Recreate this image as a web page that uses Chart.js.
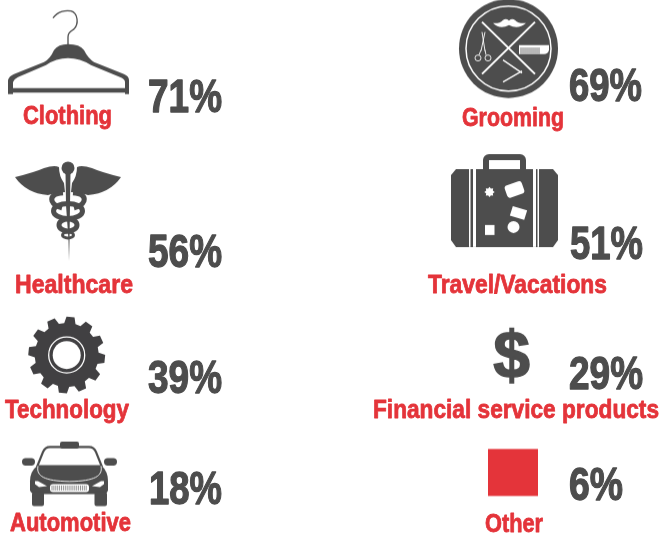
<!DOCTYPE html>
<html>
<head>
<meta charset="utf-8">
<style>
html, body { margin: 0; padding: 0; background: #fff; }
canvas { display: block; }
</style>
<script src="https://cdn.jsdelivr.net/npm/chart.js@4/dist/chart.umd.min.js"></script>
</head>
<body>
<canvas id="chart" width="660" height="539"></canvas>
<script>
// data
var categories = ['Clothing', 'Healthcare', 'Technology', 'Automotive', 'Grooming', 'Travel/Vacations', 'Financial service products', 'Other'];
var values = [71, 56, 39, 18, 69, 51, 29, 6];
var columns = [0, 0, 0, 0, 1, 1, 1, 1];
var rows = [0, 1, 2, 3, 0, 1, 2, 3];

// text boxes, same order as categories: left, baseline, width
var labelBoxes = [[23, 124, 89], [15, 293, 118], [5, 418, 124], [10, 531, 121], [462, 126, 102], [428, 293, 179], [373, 418, 286], [485, 532, 58]];
var valueBoxes = [[148, 112, 74], [148, 267, 74], [148, 393, 74], [149, 504, 73], [569, 101, 73], [570, 259, 73], [569, 389, 74], [569, 500, 54]];

var RED = '#e4343a';
var DARK = '#4d4d4d';
var W = 660, H = 539;
var CELL_W = 330, CELL_H = 140;

function poly(c, pts) {
    pts.forEach(function(p, i) {
        if (i == 0) c.moveTo(p[0], p[1]); else c.lineTo(p[0], p[1]);
    });
    c.closePath();
}

function mirrored(pts, mx) {
    return pts.map(function(p) { return [2 * mx - p[0], p[1]]; });
}

function hanger(c) {
    c.strokeStyle = DARK;
    c.lineWidth = 1.3;
    c.beginPath();
    c.moveTo(53, 18);
    c.bezierCurveTo(58, 11, 66, 10, 71, 11);
    c.bezierCurveTo(78, 13, 79, 24, 74, 29);
    c.bezierCurveTo(70, 32, 68, 33, 68, 37);
    c.lineTo(68, 45);
    c.stroke();
    c.fillStyle = DARK;
    c.beginPath();
    c.moveTo(8, 94);
    c.lineTo(8, 80);
    c.quadraticCurveTo(9, 76, 14, 74);
    c.lineTo(44, 62);
    c.quadraticCurveTo(50, 59, 54, 50);
    c.quadraticCurveTo(58, 44, 68, 44);
    c.quadraticCurveTo(80, 44, 84, 50);
    c.quadraticCurveTo(88, 58, 94, 62);
    c.lineTo(124, 74);
    c.quadraticCurveTo(129, 76, 129, 80);
    c.lineTo(129, 94);
    c.lineTo(125, 94);
    c.lineTo(125, 92.5);
    c.lineTo(13, 92.5);
    c.lineTo(13, 94);
    c.closePath();
    c.moveTo(13, 88);
    c.lineTo(13, 82);
    c.quadraticCurveTo(14, 79, 18, 77);
    c.lineTo(46, 65);
    c.quadraticCurveTo(56, 58, 68, 58);
    c.quadraticCurveTo(80, 58, 91, 65);
    c.lineTo(120, 77);
    c.quadraticCurveTo(125, 79, 125, 82);
    c.lineTo(125, 88);
    c.closePath();
    c.fill('evenodd');
}

function caduceus(c) {
    c.fillStyle = DARK;
    c.strokeStyle = DARK;
    var mx = 68;
    [false, true].forEach(function(flip) {
        c.save();
        if (flip) { c.translate(2 * mx, 0); c.scale(-1, 1); }
        c.beginPath();
        c.moveTo(15, 177);
        c.quadraticCurveTo(35, 172, 44, 168);
        c.quadraticCurveTo(54, 165, 59, 167);
        c.quadraticCurveTo(59, 176, 64, 183);
        c.lineTo(65, 192);
        c.quadraticCurveTo(56, 192, 48, 195);
        c.quadraticCurveTo(26, 193, 15, 177);
        c.closePath();
        c.fill();
        // snake curl at the top
        c.lineWidth = 5;
        c.beginPath();
        c.moveTo(63, 193);
        c.quadraticCurveTo(50, 194, 52, 201);
        c.quadraticCurveTo(54, 206, 62, 208);
        c.stroke();
        c.restore();
    });
    c.beginPath();
    c.arc(mx, 168, 6.5, 0, Math.PI * 2);
    c.fill();
    c.beginPath();
    poly(c, [[65.5, 172], [70.5, 172], [70, 205], [69.5, 240], [69, 261], [68.5, 240], [66, 205]]);
    c.fill();
    c.lineWidth = 5;
    c.beginPath();
    c.ellipse(mx, 211, 14.5, 7.5, 0, 0, Math.PI * 2);
    c.stroke();
    c.beginPath();
    c.ellipse(mx, 225, 9, 6, 0, 0, Math.PI * 2);
    c.stroke();
    c.lineWidth = 3;
    c.beginPath();
    c.ellipse(mx, 235, 5.5, 3, 0, 0, Math.PI * 2);
    c.stroke();
}

function gear(c) {
    var cx = 66.7, cy = 355, teeth = 12;
    var col = '#414042';
    c.fillStyle = col;
    c.beginPath();
    for (var i = 0; i < teeth; i++) {
        var a = i / teeth * Math.PI * 2 + 0.1;
        var s = Math.PI * 2 / teeth;
        var pts = [[32, -0.34], [38.5, -0.2], [38.5, 0.2], [32, 0.34]];
        pts.forEach(function(p, j) {
            var ang = a + p[1] * s;
            var px = cx + p[0] * Math.cos(ang), py = cy + p[0] * Math.sin(ang);
            if (i == 0 && j == 0) c.moveTo(px, py); else c.lineTo(px, py);
        });
    }
    c.closePath();
    c.fill();
    c.strokeStyle = '#fff';
    c.lineWidth = 1.3;
    c.beginPath();
    c.arc(cx, cy, 18, 0, Math.PI * 2);
    c.stroke();
    c.fillStyle = '#fff';
    c.beginPath();
    c.arc(cx, cy, 14, 0, Math.PI * 2);
    c.fill();
}

function car(c) {
    var mx = 69.5;
    c.fillStyle = DARK;
    c.strokeStyle = DARK;
    // roof sign
    c.beginPath();
    c.roundRect(60, 441.5, 19, 7, 2);
    c.fill();
    // cabin outline
    c.lineWidth = 2.2;
    c.beginPath();
    c.moveTo(37, 467);
    c.lineTo(43, 452);
    c.quadraticCurveTo(45, 447, 50, 447);
    c.lineTo(89, 447);
    c.quadraticCurveTo(94, 447, 96, 452);
    c.lineTo(102, 467);
    c.stroke();
    // mirrors
    c.beginPath();
    c.roundRect(22, 458, 13, 7.5, 3.7);
    c.roundRect(104, 458, 13, 7.5, 3.7);
    c.fill();
    // body
    c.beginPath();
    c.moveTo(38, 465);
    c.lineTo(101, 465);
    c.quadraticCurveTo(108, 471, 108, 481);
    c.lineTo(108, 490);
    c.quadraticCurveTo(107, 494, 103, 494);
    c.lineTo(36, 494);
    c.quadraticCurveTo(31, 494, 30, 490);
    c.lineTo(30, 481);
    c.quadraticCurveTo(30, 471, 38, 465);
    c.closePath();
    c.fill();
    // wheels
    c.beginPath();
    c.roundRect(32, 492, 12, 14, 2);
    c.roundRect(94.5, 492, 12.5, 14, 2);
    c.fill();
    // hood line
    c.strokeStyle = '#fff';
    c.lineWidth = 0.9;
    c.beginPath();
    c.moveTo(38, 466);
    c.bezierCurveTo(36, 476, 44, 481, mx, 481.5);
    c.bezierCurveTo(95, 481, 103, 476, 101, 466);
    c.stroke();
    // headlights
    c.fillStyle = '#fff';
    [0, 1].forEach(function(k) {
        var pts = [[35, 481], [38, 481], [47, 486], [39, 487], [35, 484]];
        if (k) pts = mirrored(pts, mx);
        c.beginPath();
        poly(c, pts);
        c.fill();
    });
    // grille
    c.beginPath();
    c.roundRect(50, 484, 39, 8, 3);
    c.fill();
    c.strokeStyle = '#777';
    c.lineWidth = 0.8;
    c.beginPath();
    for (var x = 52; x < 88; x += 1.9) {
        c.moveTo(x, 485.5);
        c.lineTo(x, 490.5);
    }
    c.stroke();
}

function grooming(c) {
    var cx = 508.5, cy = 48.5;
    c.fillStyle = DARK;
    c.beginPath();
    c.arc(cx, cy, 49.5, 0, Math.PI * 2);
    c.fill();
    c.strokeStyle = '#fff';
    c.lineWidth = 1.5;
    c.beginPath();
    c.arc(cx, cy, 42.5, 0, Math.PI * 2);
    c.stroke();
    c.lineWidth = 2;
    c.beginPath();
    c.moveTo(482, 22); c.lineTo(535, 74);
    c.moveTo(535, 22); c.lineTo(482, 74);
    c.stroke();
    // moustache
    c.fillStyle = '#fff';
    c.beginPath();
    c.moveTo(493, 23);
    c.quadraticCurveTo(499, 24, 503, 20);
    c.quadraticCurveTo(506, 18, 509, 20.5);
    c.quadraticCurveTo(512, 18, 515, 20);
    c.quadraticCurveTo(519, 24, 526, 23);
    c.quadraticCurveTo(518, 30, 509, 25);
    c.quadraticCurveTo(500, 30, 493, 23);
    c.fill();
    // scissors
    c.lineWidth = 0.9;
    c.beginPath();
    c.moveTo(482, 32); c.lineTo(485, 51);
    c.moveTo(485, 32); c.lineTo(481, 51);
    c.moveTo(485, 50); c.lineTo(486, 55);
    c.moveTo(481, 50); c.lineTo(479, 55);
    c.moveTo(481, 58); c.arc(478, 58, 3, 0, Math.PI * 2);
    c.moveTo(491, 58); c.arc(488, 58, 3, 0, Math.PI * 2);
    c.stroke();
    // comb
    c.fillStyle = '#fff';
    c.beginPath();
    c.moveTo(519, 45);
    c.lineTo(549, 45);
    c.lineTo(549, 50);
    c.quadraticCurveTo(548, 54, 544, 54);
    c.lineTo(519, 54);
    c.closePath();
    c.fill();
    c.strokeStyle = DARK;
    c.lineWidth = 0.8;
    c.beginPath();
    for (var x = 521; x < 541; x += 2) {
        c.moveTo(x, 47.5);
        c.lineTo(x, 54);
    }
    c.stroke();
    // razor
    c.strokeStyle = '#fff';
    c.lineWidth = 1.3;
    c.beginPath();
    c.moveTo(503, 60); c.lineTo(522, 73);
    c.moveTo(503, 82); c.lineTo(522, 71);
    c.stroke();
}

function suitcase(c) {
    c.fillStyle = DARK;
    c.strokeStyle = DARK;
    c.lineWidth = 6;
    c.beginPath();
    c.roundRect(486, 157, 37, 20, 3);
    c.stroke();
    c.beginPath();
    poly(c, [[456, 169], [553, 169], [558, 175], [558, 240], [553, 247], [456, 247], [451, 240], [451, 175]]);
    c.fill();
    c.fillStyle = '#fff';
    [[469, 1.5], [473, 3], [533, 3], [537.5, 1.5]].forEach(function(s) {
        c.fillRect(s[0], 169, s[1], 78);
    });
    // stickers
    c.beginPath();
    for (var i = 0; i < 16; i++) {
        var a = i / 16 * Math.PI * 2;
        var r = i % 2 ? 3.6 : 5.2;
        var px = 489.5 + r * Math.cos(a), py = 192 + r * Math.sin(a);
        if (i == 0) c.moveTo(px, py); else c.lineTo(px, py);
    }
    c.closePath();
    c.fill();
    c.save();
    c.translate(514.5, 189.5);
    c.rotate(-0.33);
    c.beginPath();
    c.roundRect(-9, -6.5, 18, 13, 3);
    c.fill();
    c.restore();
    c.save();
    c.translate(518.5, 213);
    c.rotate(0.3);
    c.fillRect(-7.5, -5, 15, 10);
    c.restore();
    c.fillRect(485, 225, 9.5, 10);
    c.beginPath();
    c.arc(513.5, 227, 6, 0, Math.PI * 2);
    c.fill();
}

function dollar(c) {
    c.fillStyle = DARK;
    c.strokeStyle = DARK;
    c.lineWidth = 1.5;
    c.font = 'bold 66px "Liberation Sans"';
    c.textAlign = 'center';
    c.textBaseline = 'alphabetic';
    c.fillText('$', 511.5, 378);
    c.strokeText('$', 511.5, 378);
}

function redBlock(c) {
    c.fillStyle = RED;
    c.fillRect(488, 449, 50, 47);
}

var painters = [hanger, caduceus, gear, car, grooming, suitcase, dollar, redBlock];

// each icon is painted on a cell sized canvas which Chart.js centres on the point
function iconFor(i) {
    var cv = document.createElement('canvas');
    cv.width = CELL_W;
    cv.height = CELL_H;
    var c = cv.getContext('2d');
    var cx = (columns[i] + 0.5) / 2 * W;
    var cy = (rows[i] + 0.5) / 4 * H;
    c.translate(CELL_W / 2 - cx, CELL_H / 2 - cy);
    painters[i](c);
    return cv;
}

function fitText(ctx, text, box, font, color, weight) {
    ctx.save();
    ctx.font = font;
    ctx.fillStyle = color;
    ctx.strokeStyle = color;
    ctx.lineWidth = weight;
    ctx.lineJoin = 'round';
    ctx.textAlign = 'left';
    ctx.textBaseline = 'alphabetic';
    var w = ctx.measureText(text).width;
    ctx.translate(box[0], box[1]);
    ctx.scale(box[2] / w, 1);
    ctx.fillText(text, 0, 0);
    ctx.strokeText(text, 0, 0);
    ctx.restore();
}

var textPlugin = {
    id: 'iconText',
    afterDatasetsDraw: function(chart) {
        var ctx = chart.ctx;
        categories.forEach(function(name, i) {
            fitText(ctx, name, labelBoxes[i], 'bold 26px "Liberation Sans Narrow", "Liberation Sans"', RED, 0.8);
            fitText(ctx, values[i] + '%', valueBoxes[i], 'bold 46px "Liberation Sans Narrow", "Liberation Sans"', DARK, 1.3);
        });
    }
};

var ctx = document.getElementById('chart');
var chart = new Chart(ctx, {
    type: 'scatter',
    data: {
        labels: categories,
        datasets: [{
            label: 'Share',
            data: categories.map(function(name, i) {
                return { x: columns[i], y: rows[i] };
            }),
            pointStyle: categories.map(function(name, i) { return iconFor(i); }),
            clip: false
        }]
    },
    options: {
        responsive: false,
        animation: false,
        events: [],
        layout: { autoPadding: false, padding: 0 },
        plugins: {
            legend: { display: false },
            tooltip: { enabled: false }
        },
        scales: {
            x: { display: false, min: -0.5, max: 1.5 },
            y: { display: false, min: -0.5, max: 3.5, reverse: true }
        }
    },
    plugins: [textPlugin]
});
</script>
</body>
</html>
